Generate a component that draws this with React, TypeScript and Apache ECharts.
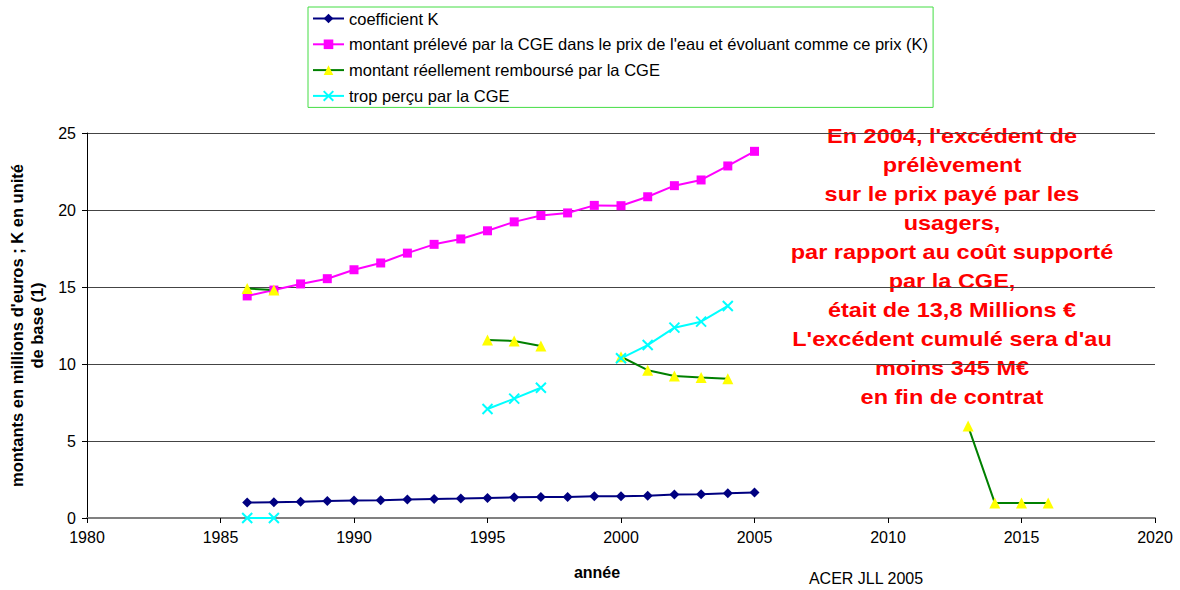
import React, { useEffect, useRef } from "react";
import * as echarts from "echarts";

const seriesNames = [
  "coefficient K",
  "montant prélevé par la CGE dans le prix de l'eau et évoluant comme ce prix (K)",
  "montant réellement remboursé par la CGE",
  "trop perçu par la CGE",
];

const kYears = [1986, 1987, 1988, 1989, 1990, 1991, 1992, 1993, 1994, 1995, 1996, 1997, 1998, 1999, 2000, 2001, 2002, 2003, 2004, 2005];
const kValues = [1.0, 1.03, 1.06, 1.1, 1.13, 1.16, 1.2, 1.24, 1.26, 1.3, 1.34, 1.37, 1.37, 1.41, 1.41, 1.45, 1.52, 1.55, 1.6, 1.66];

const preleveYears = kYears;
const preleveValues = [14.42, 14.8, 15.2, 15.54, 16.12, 16.56, 17.2, 17.77, 18.12, 18.65, 19.23, 19.64, 19.81, 20.3, 20.28, 20.86, 21.58, 21.95, 22.86, 23.81];

// null = gap in the line
const rembourseYears = [1986, 1987, 1990, 1995, 1996, 1997, 1998, 2000, 2001, 2002, 2003, 2004, 2008, 2013, 2014, 2015, 2016];
const rembourseValues = [14.9, 14.8, null, 11.56, 11.5, 11.17, null, 10.47, 9.6, 9.22, 9.13, 9.05, null, 5.97, 0.98, 0.98, 0.98];

const tropYears = [1986, 1987, 1990, 1995, 1996, 1997, 1998, 2000, 2001, 2002, 2003, 2004];
const tropValues = [0, 0, null, 7.08, 7.75, 8.46, null, 10.37, 11.23, 12.36, 12.75, 13.77];

const annotationLines = [
  "En 2004, l'excédent de",
  "prélèvement",
  "sur le prix payé par les",
  "usagers,",
  "par rapport au coût supporté",
  "par la CGE,",
  "était de 13,8 Millions €",
  "L'excédent cumulé sera d'au",
  "moins 345 M€",
  "en fin de contrat",
];

const xAxisName = "année";
const yAxisName = "montants en millions d'euros ; K en unité\nde base (1)";
const sourceNote = "ACER JLL 2005";

const FONT = "'Liberation Sans', Arial, sans-serif";

function pairs(xs: number[], ys: (number | null)[]) {
  return xs.map((x, i) => [x, ys[i]]);
}

export default function App() {
  const ref = useRef<HTMLDivElement>(null);
  useEffect(() => {
    if (!ref.current) return;
    const chart = echarts.init(ref.current, undefined, { renderer: "svg" });
    const crossPath = "path://M0,0L10,10M10,0L0,10";
    chart.setOption({
      animation: false,
      backgroundColor: "#ffffff",
      textStyle: { fontFamily: FONT },
      grid: { left: 87, right: 25, top: 133, bottom: 72, containLabel: false, outerBoundsMode: "none" },
      legend: {
        orient: "vertical",
        left: 308,
        top: 7,
        padding: [3, 5, 3, 4],
        itemGap: 8.8,
        itemWidth: 31,
        itemHeight: 12,
        borderColor: "#44dd44",
        borderWidth: 1,
        textStyle: { fontFamily: FONT, fontSize: 16.5, color: "#000" },
        data: seriesNames,
      },
      xAxis: {
        type: "value",
        min: 1980,
        max: 2020,
        interval: 5,
        name: xAxisName,
        nameLocation: "middle",
        nameGap: 46,
        nameTextStyle: { fontFamily: FONT, fontSize: 16, fontWeight: "bold", color: "#000", padding: [0, 48, 0, 0] },
        axisLine: { lineStyle: { color: "#808080", width: 2 } },
        axisTick: { show: true, length: 5, lineStyle: { color: "#000" } },
        axisLabel: { fontFamily: FONT, fontSize: 16, color: "#000", margin: 11, formatter: (v: number) => String(v) },
        splitLine: { show: false },
      },
      yAxis: {
        type: "value",
        min: 0,
        max: 25,
        interval: 5,
        name: yAxisName,
        nameLocation: "middle",
        nameRotate: 90,
        nameGap: 35,
        nameTextStyle: { fontFamily: FONT, fontSize: 16.5, fontWeight: "bold", color: "#000", lineHeight: 20 },
        axisLine: { show: true, lineStyle: { color: "#000", width: 1 } },
        axisTick: { show: true, length: 5, lineStyle: { color: "#000" } },
        axisLabel: { fontFamily: FONT, fontSize: 16, color: "#000", margin: 11 },
        splitLine: { show: true, lineStyle: { color: "#444", width: 1 } },
      },
      series: [
        {
          name: seriesNames[0],
          type: "line",
          data: pairs(kYears, kValues),
          symbol: "diamond",
          symbolSize: 10,
          lineStyle: { color: "#000080", width: 2 },
          itemStyle: { color: "#000080" },
        },
        {
          name: seriesNames[1],
          type: "line",
          data: pairs(preleveYears, preleveValues),
          symbol: "rect",
          symbolSize: 9,
          lineStyle: { color: "#ff00ff", width: 2 },
          itemStyle: { color: "#ff00ff" },
        },
        {
          name: seriesNames[2],
          type: "line",
          data: pairs(rembourseYears, rembourseValues),
          connectNulls: false,
          symbol: "triangle",
          symbolSize: 11,
          lineStyle: { color: "#008000", width: 2 },
          itemStyle: { color: "#ffff00" },
        },
        {
          name: seriesNames[3],
          type: "line",
          data: pairs(tropYears, tropValues),
          connectNulls: false,
          symbol: crossPath,
          symbolSize: 10,
          lineStyle: { color: "#00ffff", width: 2 },
          itemStyle: { color: "#00ffff", borderColor: "#00ffff", borderWidth: 2 },
        },
      ],
      graphic: [
        {
          type: "text",
          x: 952,
          y: 266,
          scaleX: 1.12,
          style: {
            text: annotationLines.join("\n"),
            fill: "#ff0000",
            font: `bold 21px ${FONT}`,
            lineHeight: 29,
            align: "center",
            verticalAlign: "middle",
          },
        },
        {
          type: "text",
          x: 866,
          y: 578,
          style: {
            text: sourceNote,
            fill: "#000",
            font: `16px ${FONT}`,
            align: "center",
            verticalAlign: "middle",
          },
        },
      ],
    });
    return () => chart.dispose();
  }, []);
  return <div ref={ref} style={{ width: 1180, height: 590, position: "absolute", left: 0, top: 0 }} />;
}
